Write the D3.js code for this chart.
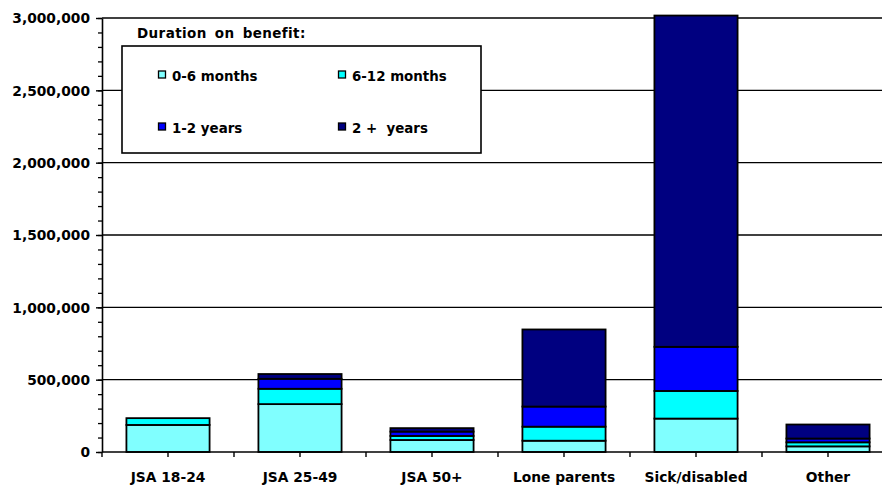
<!DOCTYPE html>
<html>
<head>
<meta charset="utf-8">
<script src="https://cdn.jsdelivr.net/npm/d3@7"></script>
<style>
  html, body { margin: 0; padding: 0; background: #fff; }
  svg { display: block; }
  text { font-family: "DejaVu Sans", Verdana, sans-serif; font-weight: bold; fill: #000; }
</style>
</head>
<body>
<svg id="chart" width="882" height="486"></svg>
<script>
// Claimants of working-age benefits by client group and duration on benefit
const categories = ["JSA 18-24", "JSA 25-49", "JSA 50+", "Lone parents", "Sick/disabled", "Other"];
const months0to6  = [187000, 331000, 83000,  78000,  231000, 39000];
const months6to12 = [ 47000, 106000, 28000,  97000,  191000, 28000];
const years1to2   = [     0,  69000, 30000, 139000,  305000, 26000];
const years2plus  = [     0,  33000, 24000, 533000, 2290000, 97000];

const seriesNames  = ["0-6 months", "6-12 months", "1-2 years", "2 +\u00a0 years"];
const seriesColors = ["#80ffff", "#00ffff", "#0000ff", "#000080"];
const yTickValues  = [0, 500000, 1000000, 1500000, 2000000, 2500000, 3000000];
const legendTitle  = "Duration on benefit:";

const svg = d3.select("#chart");
const margin = { left: 102, top: 18, bottom: 452, right: 894 };

const rows = categories.map((c, i) => ({
  cat: c,
  s0: months0to6[i], s1: months6to12[i], s2: years1to2[i], s3: years2plus[i]
}));
const keys = ["s0", "s1", "s2", "s3"];
const stacked = d3.stack().keys(keys)(rows);

const x = d3.scaleBand()
  .domain(categories)
  .range([margin.left, margin.right])
  .paddingInner(0.37)
  .paddingOuter(0.185);

const y = d3.scaleLinear()
  .domain([0, 3000000])
  .range([margin.bottom, margin.top]);

// horizontal gridlines
svg.append("g")
  .selectAll("line")
  .data(yTickValues.filter(v => v > 0))
  .join("line")
  .attr("x1", margin.left).attr("x2", 882)
  .attr("y1", d => y(d)).attr("y2", d => y(d))
  .attr("stroke", "#000").attr("stroke-width", 1.4);

// stacked bars
svg.append("g")
  .selectAll("g")
  .data(stacked)
  .join("g")
  .attr("fill", (d, i) => seriesColors[i])
  .selectAll("rect")
  .data(d => d.filter(p => p[1] - p[0] > 0))
  .join("rect")
  .attr("x", d => x(d.data.cat))
  .attr("width", x.bandwidth())
  .attr("y", d => y(d[1]))
  .attr("height", d => y(d[0]) - y(d[1]))
  .attr("stroke", "#000")
  .attr("stroke-width", 1.8);

// y axis: minor ticks every 100,000
const yMinor = svg.append("g")
  .attr("transform", `translate(${margin.left},0)`)
  .call(d3.axisLeft(y).tickValues(d3.range(0, 3000001, 100000)).tickSize(4).tickFormat(""));
yMinor.select(".domain").remove();
yMinor.selectAll("line").attr("stroke", "#000").attr("stroke-width", 1.3);

// y axis: major ticks and labels
const yAxis = svg.append("g")
  .attr("transform", `translate(${margin.left},0)`)
  .call(d3.axisLeft(y).tickValues(yTickValues).tickSize(6).tickPadding(6).tickFormat(d3.format(",")).tickSizeOuter(0));
yAxis.select(".domain").attr("stroke", "#000").attr("stroke-width", 1.6);
yAxis.selectAll("line").attr("stroke", "#000").attr("stroke-width", 1.4);
yAxis.selectAll("text")
  .style("font-family", "'DejaVu Sans', Verdana, sans-serif")
  .style("font-weight", "bold")
  .style("font-size", "13.8px")
  .attr("dy", "0.36em");

// x axis: ticks at category centres (with labels) and at category boundaries
const xAxis = svg.append("g")
  .attr("transform", `translate(0,${margin.bottom})`)
  .call(d3.axisBottom(x).tickSize(5).tickPadding(15).tickSizeOuter(0));
xAxis.select(".domain").remove();
xAxis.selectAll("line").attr("stroke", "#000").attr("stroke-width", 1.4);
xAxis.selectAll("text")
  .style("font-family", "'DejaVu Sans', Verdana, sans-serif")
  .style("font-weight", "bold")
  .style("font-size", "13.8px")
  .attr("dy", "0.71em");

svg.append("g")
  .selectAll("line")
  .data(categories)
  .join("line")
  .attr("x1", d => x(d) + x.bandwidth() / 2 - x.step() / 2)
  .attr("x2", d => x(d) + x.bandwidth() / 2 - x.step() / 2)
  .attr("y1", margin.bottom).attr("y2", margin.bottom + 5)
  .attr("stroke", "#000").attr("stroke-width", 1.4);

// x axis baseline
svg.append("line")
  .attr("x1", margin.left).attr("x2", 882)
  .attr("y1", margin.bottom).attr("y2", margin.bottom)
  .attr("stroke", "#000").attr("stroke-width", 1.6);

// legend
const legend = svg.append("g");
legend.append("text")
  .attr("x", 137).attr("y", 38)
  .style("font-size", "13.5px")
  .style("letter-spacing", "0.4px")
  .style("word-spacing", "3px")
  .text(legendTitle);
legend.append("rect")
  .attr("x", 122).attr("y", 46)
  .attr("width", 359).attr("height", 107)
  .attr("fill", "#fff").attr("stroke", "#000").attr("stroke-width", 1.6);

const legendPos = [
  { mx: 158, ty: 81 }, { mx: 338, ty: 81 },
  { mx: 158, ty: 133 }, { mx: 338, ty: 133 }
];
const items = legend.selectAll("g.item")
  .data(seriesNames)
  .join("g")
  .attr("class", "item")
  .attr("transform", (d, i) => `translate(${legendPos[i].mx},${legendPos[i].ty})`);
items.append("rect")
  .attr("x", 0.5).attr("y", -10)
  .attr("width", 7).attr("height", 7)
  .attr("fill", (d, i) => seriesColors[i])
  .attr("stroke", "#000").attr("stroke-width", 1.3);
items.append("text")
  .attr("x", 14).attr("y", 0)
  .style("font-size", "13.4px")
  .style("white-space", "pre")
  .text(d => d);
</script>
</body>
</html>
